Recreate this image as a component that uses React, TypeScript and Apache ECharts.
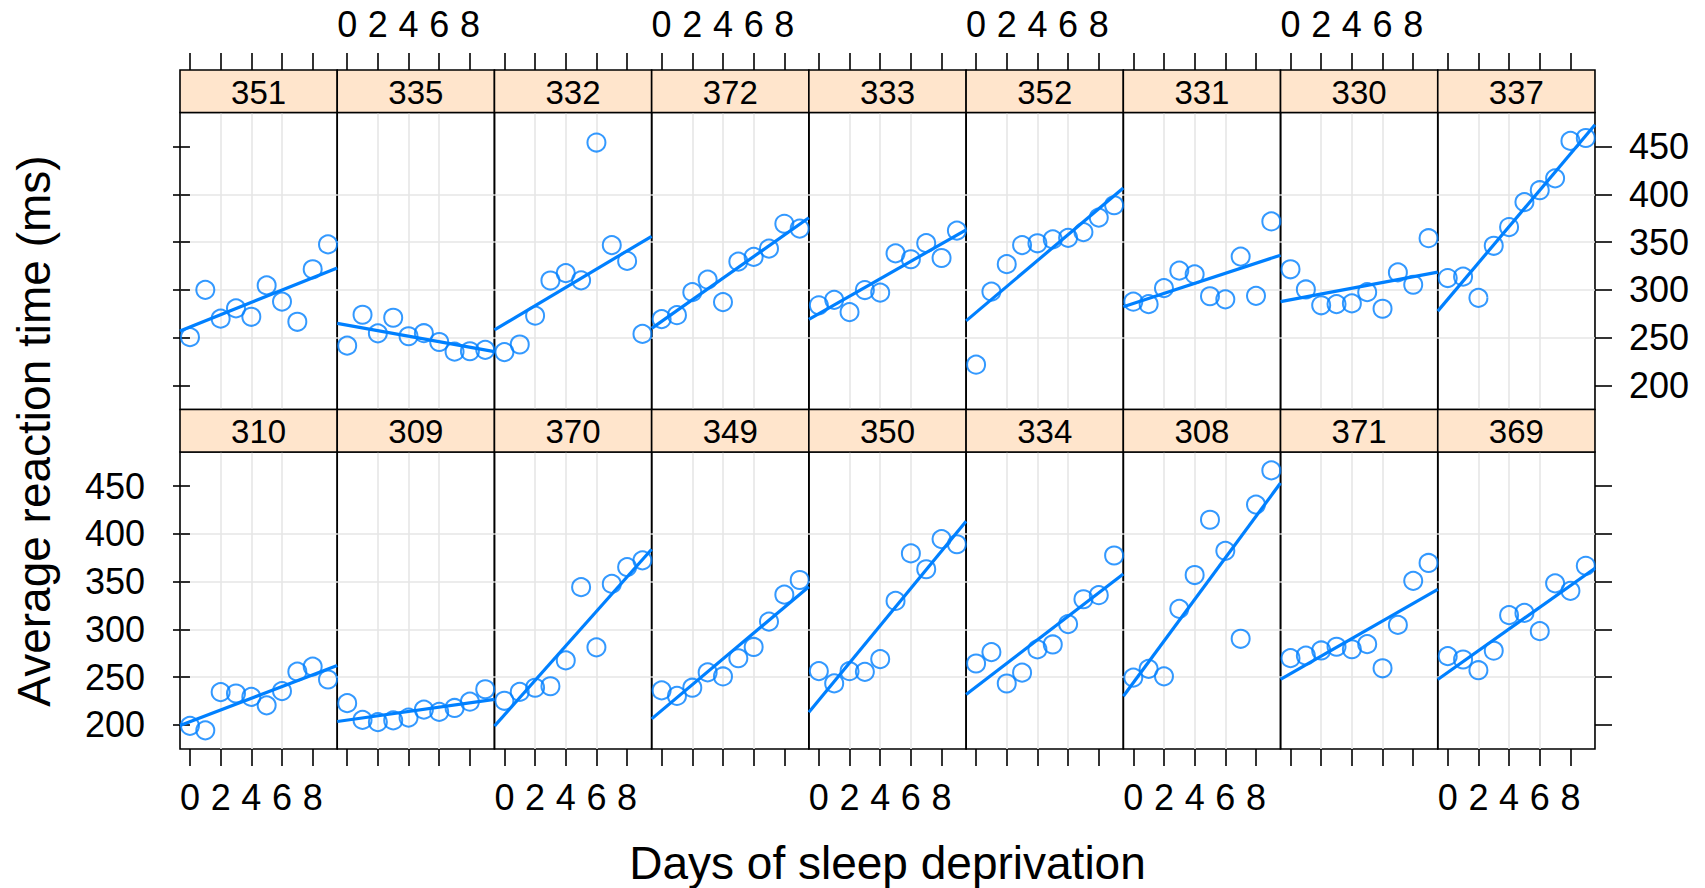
import React, { useEffect, useRef } from "react";
import * as echarts from "echarts";

// ---- data (lme4 sleepstudy) ----
const days = [0, 1, 2, 3, 4, 5, 6, 7, 8, 9];
const r308 = [249.56, 258.7047, 250.8006, 321.4398, 356.8519, 414.6901, 382.2038, 290.1486, 430.5853, 466.3535];
const r309 = [222.7339, 205.2658, 202.9778, 204.707, 207.7161, 215.9618, 213.6303, 217.7272, 224.2957, 237.3142];
const r310 = [199.0539, 194.3322, 234.32, 232.8416, 229.3074, 220.4579, 235.4208, 255.7511, 261.0125, 247.5153];
const r330 = [321.5426, 300.4002, 283.8565, 285.133, 285.7973, 297.5855, 280.2396, 318.2613, 305.3495, 354.0487];
const r331 = [287.6079, 285.0, 301.8206, 320.1153, 316.2773, 293.3187, 290.075, 334.8177, 293.7469, 371.5811];
const r332 = [234.8606, 242.8118, 272.9613, 309.7688, 317.4629, 309.9976, 454.1619, 346.8311, 330.3003, 253.8644];
const r333 = [283.8424, 289.555, 276.7693, 299.8097, 297.171, 338.1665, 332.0265, 348.8399, 333.36, 362.0428];
const r334 = [264.2516, 276.2012, 243.3647, 254.6723, 279.0244, 284.1912, 305.5248, 331.5229, 335.7469, 377.299];
const r335 = [241.6083, 273.9472, 254.4907, 270.8021, 251.4519, 254.6362, 245.4523, 235.311, 235.7541, 237.2466];
const r337 = [312.3666, 313.8058, 291.6112, 346.1222, 365.7324, 391.8385, 404.2601, 416.6923, 455.8643, 458.9167];
const r349 = [236.1032, 230.3167, 238.9256, 254.922, 250.7103, 269.7744, 281.5648, 308.102, 336.2806, 351.6451];
const r350 = [256.2968, 243.4543, 256.2046, 255.5271, 268.9165, 329.7247, 379.4445, 362.9184, 394.4872, 389.0527];
const r351 = [250.5265, 300.0576, 269.8939, 280.5891, 271.8274, 304.6336, 287.7466, 266.5955, 321.5418, 347.5655];
const r352 = [221.6771, 298.1939, 326.8785, 346.8555, 348.7402, 352.8287, 354.4266, 360.4326, 375.6406, 388.5417];
const r369 = [271.9235, 268.4369, 257.2424, 277.6566, 314.8222, 317.2135, 298.1353, 348.1229, 340.28, 366.5131];
const r370 = [225.264, 234.5235, 238.9008, 240.473, 267.5373, 344.1937, 281.1481, 347.5855, 365.163, 372.2288];
const r371 = [269.8804, 272.4428, 277.8989, 281.7895, 279.1705, 284.512, 259.2658, 304.6306, 350.7807, 369.4692];
const r372 = [269.4117, 273.474, 297.5968, 310.6316, 287.1726, 329.6076, 334.4818, 343.2199, 369.1417, 364.1236];

const topRow = ["351", "335", "332", "372", "333", "352", "331", "330", "337"];
const bottomRow = ["310", "309", "370", "349", "350", "334", "308", "371", "369"];
const xTicks = [0, 2, 4, 6, 8];
const yTicks = [200, 250, 300, 350, 400, 450];
const xTitle = "Days of sleep deprivation";
const yTitle = "Average reaction time (ms)";

const bySubject: Record<string, number[]> = {
  "308": r308, "309": r309, "310": r310, "330": r330, "331": r331, "332": r332,
  "333": r333, "334": r334, "335": r335, "337": r337, "349": r349, "350": r350,
  "351": r351, "352": r352, "369": r369, "370": r370, "371": r371, "372": r372,
};

// ---- layout ----
const XMIN = -0.65, XMAX = 9.6;
const YMIN = 174.8, YMAX = 485.6;
const LEFT = 180, PW = 157.22;
const STRIP_H = 42.5;
const ROW_TOP = [112.5, 452];
const PH = 297;
const BLUE = "#0080ff";
const FONT = "'Liberation Sans', Arial, Helvetica, sans-serif";

function fit(x: number[], y: number[]) {
  const n = x.length;
  const mx = x.reduce((a, b) => a + b, 0) / n;
  const my = y.reduce((a, b) => a + b, 0) / n;
  let sxy = 0, sxx = 0;
  for (let i = 0; i < n; i++) {
    sxy += (x[i] - mx) * (y[i] - my);
    sxx += (x[i] - mx) * (x[i] - mx);
  }
  const b = sxy / sxx;
  return { a: my - b * mx, b };
}

export default function App() {
  const ref = useRef<HTMLDivElement>(null);
  useEffect(() => {
    if (!ref.current) return;
    const chart = echarts.init(ref.current, null, { renderer: "svg" });
    const grids: any[] = [];
    const xAxes: any[] = [];
    const yAxes: any[] = [];
    const series: any[] = [];
    const graphics: any[] = [];
    const rows = [topRow, bottomRow];
    let gi = 0;
    rows.forEach((row, r) => {
      row.forEach((id, c) => {
        const left = LEFT + c * PW;
        const top = ROW_TOP[r];
        grids.push({
          left, top, width: PW, height: PH,
          show: true, borderColor: "#000", borderWidth: 1.6, backgroundColor: "transparent",
        });
        const showXLabel = (r === 1 && c % 2 === 0) || (r === 0 && c % 2 === 1);
        xAxes.push({
          type: "value", gridIndex: gi, min: XMIN, max: XMAX, splitNumber: 5,
          position: r === 0 ? "top" : "bottom",
          offset: r === 0 ? STRIP_H : 0,
          axisLine: { show: false },
          axisTick: { show: true, customValues: xTicks, length: 17, inside: false, lineStyle: { color: "#000", width: 1.6 } },
          axisLabel: { show: showXLabel, customValues: xTicks, fontSize: 36, color: "#000", fontFamily: FONT, margin: r === 0 ? 28 : 30 },
          splitLine: { show: true, showMinLine: false, showMaxLine: false, lineStyle: { color: "#e6e6e6", width: 1.6 } },
        });
        yAxes.push({
          type: "value", gridIndex: gi, min: YMIN, max: YMAX, splitNumber: 5, position: "left",
          axisLine: { show: false },
          axisTick: { show: c === 0, customValues: yTicks, length: 17, inside: false, lineStyle: { color: "#000", width: 1.6 } },
          axisLabel: { show: c === 0 && r === 1, customValues: yTicks, fontSize: 36, color: "#000", fontFamily: FONT, margin: 35 },
          splitLine: { show: true, showMinLine: false, showMaxLine: false, lineStyle: { color: "#e6e6e6", width: 1.6 } },
        });
        const yIdx = yAxes.length - 1;
        if (c === 8) {
          yAxes.push({
            type: "value", gridIndex: gi, min: YMIN, max: YMAX, splitNumber: 5, position: "right",
            axisLine: { show: false },
            axisTick: { show: true, customValues: yTicks, length: 17, inside: false, lineStyle: { color: "#000", width: 1.6 } },
            axisLabel: { show: r === 0, customValues: yTicks, fontSize: 36, color: "#000", fontFamily: FONT, margin: 34 },
            splitLine: { show: false },
          });
        }
        const vals = bySubject[id];
        const f = fit(days, vals);
        series.push({
          type: "scatter", xAxisIndex: gi, yAxisIndex: yIdx, z: 3,
          symbol: "circle", symbolSize: 18,
          itemStyle: { color: "transparent", borderColor: BLUE, borderWidth: 2 },
          data: days.map((d, i) => [d, vals[i]]),
          silent: true,
        });
        series.push({
          type: "line", xAxisIndex: gi, yAxisIndex: yIdx, z: 4, clip: true,
          showSymbol: false, symbol: "none",
          lineStyle: { color: BLUE, width: 3.2 },
          data: [[XMIN, f.a + f.b * XMIN], [XMAX, f.a + f.b * XMAX]],
          silent: true,
        });
        // strip
        graphics.push({
          type: "rect", z: 10,
          shape: { x: left, y: top - STRIP_H, width: PW, height: STRIP_H },
          style: { fill: "#ffe5cc", stroke: "#000", lineWidth: 1.6 },
          silent: true,
        });
        graphics.push({
          type: "text", z: 11, x: left + PW / 2, y: top - STRIP_H / 2 + 1,
          style: { text: id, fill: "#000", fontSize: 33, fontFamily: FONT, textAlign: "center", textVerticalAlign: "middle" },
          silent: true,
        });
        gi++;
      });
    });
    graphics.push({
      type: "text", x: 887.5, y: 863,
      style: { text: xTitle, fill: "#000", fontSize: 46, fontFamily: FONT, textAlign: "center", textVerticalAlign: "middle" },
      silent: true,
    });
    graphics.push({
      type: "text", x: 34, y: 431, rotation: Math.PI / 2,
      style: { text: yTitle, fill: "#000", fontSize: 46, fontFamily: FONT, textAlign: "center", textVerticalAlign: "middle" },
      silent: true,
    });
    chart.setOption({
      animation: false,
      backgroundColor: "#fff",
      grid: grids,
      xAxis: xAxes,
      yAxis: yAxes,
      series,
      graphic: graphics,
    });
    return () => chart.dispose();
  }, []);
  return (
    <div
      ref={ref}
      style={{ position: "fixed", left: 0, top: 0, width: 1705, height: 888 }}
    />
  );
}
